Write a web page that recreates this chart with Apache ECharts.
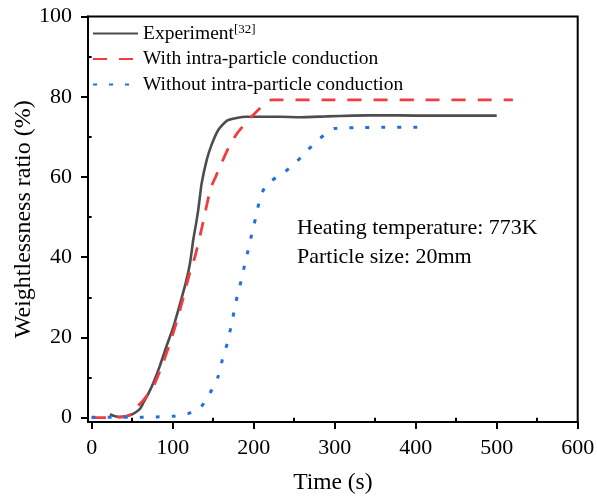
<!DOCTYPE html>
<html><head><meta charset="utf-8">
<script src="https://cdn.jsdelivr.net/npm/echarts@6/dist/echarts.min.js"></script>
<style>html,body{margin:0;padding:0;background:#fff}#c{width:597px;height:498px}</style>
</head><body><div id="c"></div>
<script>
// ---- data ----
const seriesNames = ['Experiment', 'With intra-particle conduction', 'Without intra-particle conduction'];

const expTime  = [22.6, 28, 33, 40, 47, 54, 60, 64, 70, 76, 84, 92, 101, 109, 117, 121.4, 125.4, 129, 131.6, 135.8, 142, 148, 156.3, 166.7, 179, 191, 210, 232, 257, 290, 323, 360, 400, 450, 500];
const expRatio = [0.85, 0.4, 0.25, 0.3, 0.6, 1.3, 2.3, 3.8, 6.0, 8.6, 12.8, 17.6, 22.7, 28.3, 34.3, 38.5, 44.3, 48.5, 51.8, 58.4, 64.2, 68.0, 71.7, 74.0, 74.7, 75.0, 75.0, 75.0, 74.9, 75.1, 75.3, 75.4, 75.3, 75.3, 75.3];

const withTime  = [0, 20, 40, 51, 56, 64, 76, 88, 99, 109, 121, 127.5, 134, 138.6, 146.9, 153, 159.3, 170.7, 180, 190, 200, 211.9, 222, 300, 400, 520];
const withRatio = [0, 0, 0.2, 1.1, 2.7, 4.4, 7.7, 13.6, 20.0, 26.8, 36.0, 40.1, 45.5, 49.7, 57.2, 60.0, 63.0, 68.0, 71.0, 73.4, 75.6, 77.9, 79.2, 79.2, 79.2, 79.2];

const withoutTime  = [0, 20, 40, 60, 80, 100, 119, 135, 146, 156, 161.5, 167.6, 171.7, 175.8, 180, 184.8, 189.3, 194.2, 198.3, 200.4, 204.9, 209.9, 215, 222.2, 238.6, 253, 266, 282, 292, 300, 330, 360, 402];
const withoutRatio = [0.1, 0.1, 0.1, 0.1, 0.2, 0.35, 1.0, 2.7, 6.1, 10.2, 14.6, 18.7, 22.4, 26.5, 30.6, 34.3, 38.5, 42.6, 46.4, 48.0, 52.2, 55.8, 57.8, 59.1, 61.3, 63.8, 66.6, 69.6, 71.3, 72.1, 72.3, 72.4, 72.4];

const xMajorTicks = [0, 100, 200, 300, 400, 500, 600];
const xMinorTicks = [50, 150, 250, 350, 450, 550];
const yMajorTicks = [0, 20, 40, 60, 80, 100];
const yMinorTicks = [10, 30, 50, 70, 90];

const annotationLines = ['Heating temperature: 773K', 'Particle size: 20mm'];
const expSup = '[32]';

// ---- chart ----
const FONT = '"Liberation Serif", "Times New Roman", serif';
const zip = (a, b) => a.map((v, i) => [v, b[i]]);

function axisBase(min, max) {
  return {
    type: 'value', min: min, max: max,
    splitLine: { show: false },
    axisLine: { show: true, onZero: false, lineStyle: { color: '#000', width: 2 } },
  };
}

const chart = echarts.init(document.getElementById('c'), null, { renderer: 'canvas' });
chart.setOption({
  animation: false,
  backgroundColor: '#fff',
  grid: { left: 88, right: 19.3, top: 16.5, bottom: 76, containLabel: false, outerBoundsMode: 'none',
          show: true, borderColor: '#000', borderWidth: 2, backgroundColor: 'transparent' },
  legend: {
    orient: 'vertical', left: 92, top: 23.5, padding: 0,
    itemWidth: 45, itemHeight: 14, itemGap: 5.5,
    itemStyle: { opacity: 0 },
    data: seriesNames,
    textStyle: {
      fontFamily: FONT, fontSize: 19.5, color: '#000', lineHeight: 20,
      rich: { sup: { fontFamily: FONT, fontSize: 13, lineHeight: 20, verticalAlign: 'top', padding: [0, 0, 7, 0] } }
    },
    formatter: n => n === seriesNames[0] ? n + '{sup|' + expSup + '}' : n
  },
  xAxis: [
    Object.assign(axisBase(-4.5, 600), {
      position: 'bottom',
      name: 'Time (s)', nameLocation: 'middle', nameGap: 49,
      nameTextStyle: { fontFamily: FONT, fontSize: 23.5, color: '#000' },
      axisTick: { show: true, inside: false, length: 7, lineStyle: { color: '#000', width: 2 }, customValues: xMajorTicks },
      axisLabel: { show: true, margin: 15, fontFamily: FONT, fontSize: 22, color: '#000', customValues: xMajorTicks }
    }),
    Object.assign(axisBase(-4.5, 600), {
      position: 'bottom', offset: 0,
      axisLine: { show: false },
      axisTick: { show: true, inside: false, length: 4, lineStyle: { color: '#000', width: 2 }, customValues: xMinorTicks },
      axisLabel: { show: false, customValues: xMinorTicks }
    })
  ],
  yAxis: [
    Object.assign(axisBase(-1.07, 100), {
      position: 'left',
      name: 'Weightlessness ratio (%)', nameLocation: 'middle', nameGap: 52, nameMoveOverlap: false,
      nameTextStyle: { fontFamily: FONT, fontSize: 24, color: '#000' },
      axisTick: { show: true, inside: false, length: 7, lineStyle: { color: '#000', width: 2 }, customValues: yMajorTicks },
      axisLabel: { show: true, margin: 16, fontFamily: FONT, fontSize: 22, color: '#000', customValues: yMajorTicks }
    }),
    Object.assign(axisBase(-1.07, 100), {
      position: 'left', offset: 0,
      axisLine: { show: false },
      axisTick: { show: true, inside: false, length: 4, lineStyle: { color: '#000', width: 2 }, customValues: yMinorTicks },
      axisLabel: { show: false, customValues: yMinorTicks }
    })
  ],
  graphic: [{
    type: 'text', left: 297, top: 213.5,
    style: { text: annotationLines.join('\n'), fontFamily: FONT, fontSize: 22, lineHeight: 29, fill: '#000' }
  }],
  series: [
    { name: seriesNames[0], type: 'line', xAxisIndex: 0, yAxisIndex: 0, symbol: 'none', smooth: 0.2,
      data: zip(expTime, expRatio),
      lineStyle: { color: '#4d4d4d', width: 2.6, type: 'solid' }, itemStyle: { color: '#4d4d4d' } },
    { name: seriesNames[1], type: 'line', xAxisIndex: 0, yAxisIndex: 0, symbol: 'none', smooth: 0.2,
      data: zip(withTime, withRatio),
      lineStyle: { color: '#f23c42', width: 2.8, type: [14, 12] }, itemStyle: { color: '#f23c42' } },
    { name: seriesNames[2], type: 'line', xAxisIndex: 0, yAxisIndex: 0, symbol: 'none', smooth: 0.2,
      data: zip(withoutTime, withoutRatio),
      lineStyle: { color: '#1f6fe0', width: 3, type: [4, 12] }, itemStyle: { color: '#1f6fe0' } }
  ]
});
</script></body></html>
